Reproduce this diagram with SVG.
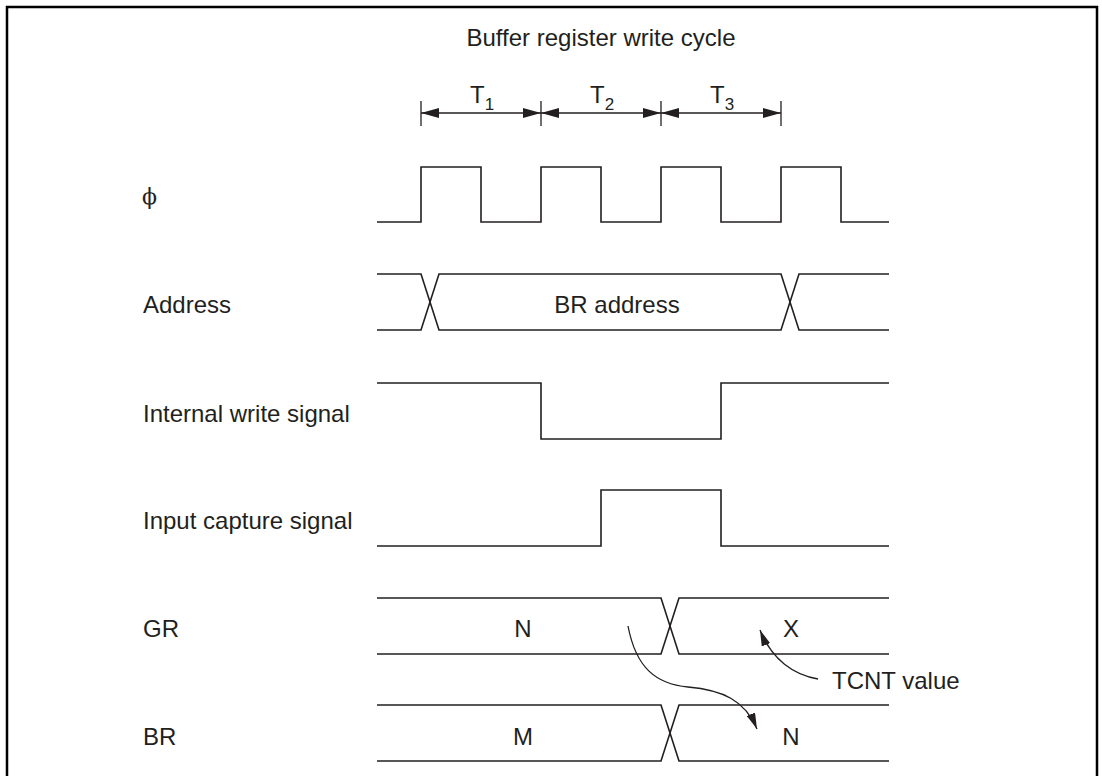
<svg xmlns="http://www.w3.org/2000/svg" width="1102" height="776" viewBox="0 0 1102 776">
<style>
.sig{fill:none;stroke:#231f20;stroke-width:1.6;stroke-linejoin:miter}
.t{font-family:"Liberation Sans",Arial,sans-serif;font-size:24px;fill:#231f20}
.m{text-anchor:middle}
.dim{fill:none;stroke:#231f20;stroke-width:1.3}
.cur{fill:none;stroke:#231f20;stroke-width:1.3}
</style>
<defs>
<marker id="ah" markerUnits="userSpaceOnUse" viewBox="0 0 18 10" refX="18" refY="5" markerWidth="18" markerHeight="10" orient="auto-start-reverse">
<path d="M0,0 L18,5 L0,10 z" fill="#231f20"/>
</marker>
<marker id="ah2" markerUnits="userSpaceOnUse" viewBox="0 0 16 9" refX="16" refY="4.5" markerWidth="16" markerHeight="9" orient="auto">
<path d="M0,0 L16,4.5 L0,9 z" fill="#231f20"/>
</marker>
</defs>
<rect width="1102" height="776" fill="#fff"/>
<path d="M7,776 V7 H1097 V776" fill="none" stroke="#000" stroke-width="2.5"/>

<g id="title"><text class="t m" x="601" y="46">Buffer register write cycle</text></g>

<g id="timing">
<path class="dim" d="M421,101 V126 M541,101 V126 M661,101 V126 M781,101 V126"/>
<line class="dim" x1="421" y1="113" x2="541" y2="113" marker-start="url(#ah)" marker-end="url(#ah)"/>
<line class="dim" x1="541" y1="113" x2="661" y2="113" marker-start="url(#ah)" marker-end="url(#ah)"/>
<line class="dim" x1="661" y1="113" x2="781" y2="113" marker-start="url(#ah)" marker-end="url(#ah)"/>
<text class="t" x="470" y="103">T<tspan font-size="17" dy="7">1</tspan></text>
<text class="t" x="590" y="103">T<tspan font-size="17" dy="7">2</tspan></text>
<text class="t" x="710" y="103">T<tspan font-size="17" dy="7">3</tspan></text>
</g>

<g id="phi">
<text x="142" y="204" style="font-family:'DejaVu Serif','Liberation Serif',serif;font-size:22px;fill:#231f20">ϕ</text>
<path class="sig" d="M377,222 H421 V167 H481 V222 H541 V167 H601 V222 H661 V167 H721 V222 H781 V167 H841 V222 H889"/>
</g>

<g id="address">
<text class="t" x="143" y="313">Address</text>
<path class="sig" d="M377,274 H421 L439,330 H781 L799,274 H889"/>
<path class="sig" d="M377,330 H421 L439,274 H781 L799,330 H889"/>
<text class="t m" x="617" y="313">BR address</text>
</g>

<g id="internal-write">
<text class="t" x="143" y="422">Internal write signal</text>
<path class="sig" d="M377,383 H541 V439 H721 V383 H889"/>
</g>

<g id="input-capture">
<text class="t" x="143" y="529">Input capture signal</text>
<path class="sig" d="M377,546 H601 V490 H721 V546 H889"/>
</g>

<g id="gr">
<text class="t" x="143" y="637">GR</text>
<path class="sig" d="M377,598 H661 L679,654 H889"/>
<path class="sig" d="M377,654 H661 L679,598 H889"/>
<text class="t m" x="523" y="637">N</text>
<text class="t m" x="791" y="637">X</text>
</g>

<g id="br">
<text class="t" x="143" y="745">BR</text>
<path class="sig" d="M377,705 H661 L679,761 H889"/>
<path class="sig" d="M377,761 H661 L679,705 H889"/>
<text class="t m" x="523" y="745">M</text>
<text class="t m" x="791" y="745">N</text>
</g>

<g id="tcnt"><text class="t" x="832" y="689">TCNT value</text></g>

<g id="connectors">
<path class="cur" d="M628,626 C636,668 656,684 688,687 C722,690 745,700 757,729" marker-end="url(#ah2)"/>
<path class="cur" d="M818,679 C794,675 772,660 760,630" marker-end="url(#ah2)"/>
</g>
</svg>
